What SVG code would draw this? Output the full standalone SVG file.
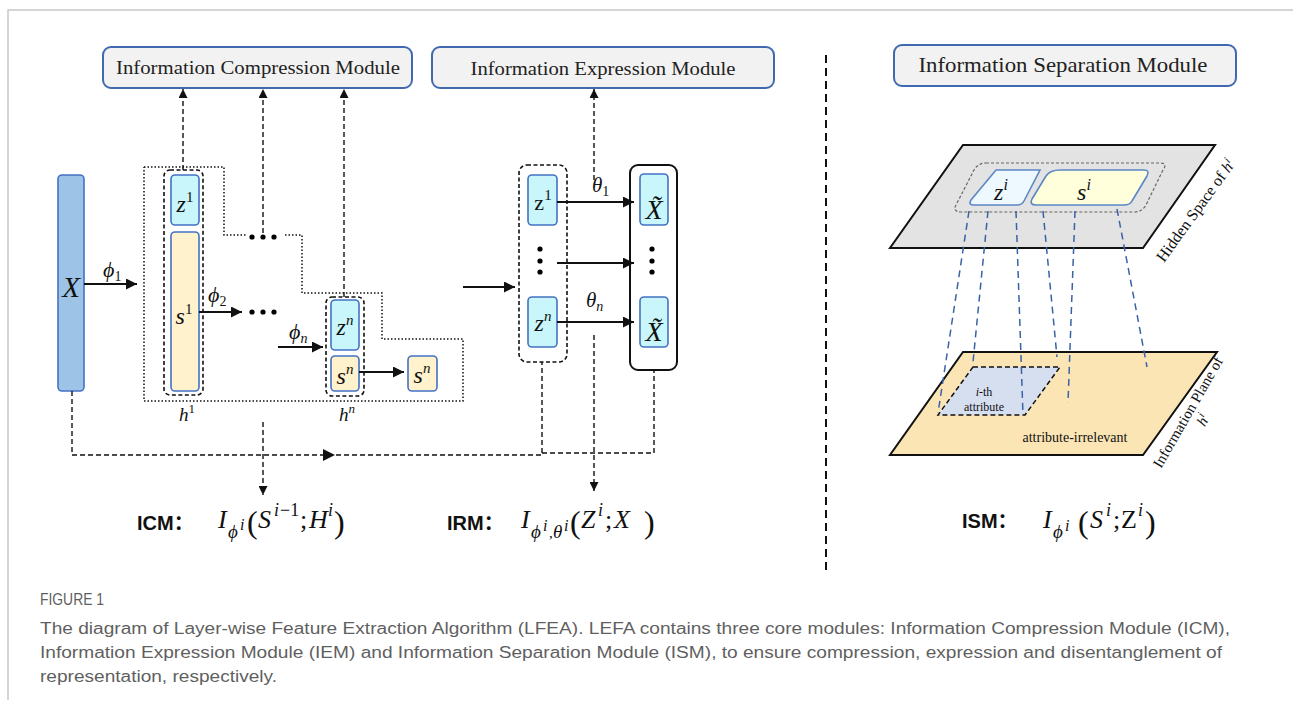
<svg xmlns="http://www.w3.org/2000/svg" width="1293" height="705" viewBox="0 0 1293 705">
<style>
.mod{fill:#f2f2f2;stroke:#4169b0;stroke-width:2}
.mt{font-family:"Liberation Serif",serif;fill:#222;text-anchor:middle}
.zb{fill:#c8f6fb;stroke:#4472c4;stroke-width:1.6}
.sb{fill:#fff2cc;stroke:#4472c4;stroke-width:1.6}
.m{font-family:"Liberation Serif",serif;font-style:italic;fill:#111}
.r{font-family:"Liberation Serif",serif;fill:#111}
.dash{fill:none;stroke:#111;stroke-width:1.4;stroke-dasharray:5,3}
.dot{fill:none;stroke:#111;stroke-width:1.5;stroke-dasharray:1.5,2}
.sol{fill:none;stroke:#111;stroke-width:1.8}
.gb{fill:none;stroke:#111;stroke-width:1.6;stroke-dasharray:4,2.5}
.bl{fill:none;stroke:#3a62a8;stroke-width:1.5;stroke-dasharray:7,5}
.lab{font-family:"Liberation Sans",sans-serif;font-weight:bold;fill:#111;font-size:20px}
.cap{font-family:"Liberation Sans",sans-serif;fill:#5f5f5f;font-size:16px}
</style>
<defs>
<marker id="ah" viewBox="0 0 10 10" refX="10" refY="5" markerWidth="10" markerHeight="9" markerUnits="userSpaceOnUse" orient="auto"><path d="M0,0 L10,5 L0,10 z" fill="#111"/></marker>
<marker id="ah2" viewBox="0 0 10 10" refX="10" refY="5" markerWidth="12" markerHeight="11" markerUnits="userSpaceOnUse" orient="auto"><path d="M0,0 L10,5 L0,10 z" fill="#111"/></marker>
</defs>
<rect width="1293" height="705" fill="#fff"/>
<path d="M8,700 V10 H1293" fill="none" stroke="#c8c8c8" stroke-width="1.5"/>

<g id="icm-module"><rect class="mod" x="103" y="47" width="309" height="41" rx="8"/><text class="mt" x="258" y="74" font-size="19" textLength="284" lengthAdjust="spacingAndGlyphs">Information Compression Module</text></g>
<g id="iem-module"><rect class="mod" x="432" y="47" width="342" height="41" rx="8"/><text class="mt" x="603" y="75" font-size="19" textLength="265" lengthAdjust="spacingAndGlyphs">Information Expression Module</text></g>
<g id="ism-module"><rect class="mod" x="894" y="45" width="342" height="41" rx="8"/><text class="mt" x="1063" y="72" font-size="21" textLength="289" lengthAdjust="spacingAndGlyphs">Information Separation Module</text></g>

<g id="x-input"><rect x="58" y="175" width="26" height="216" rx="4" fill="#9dc3e6" stroke="#4472c4" stroke-width="1.6"/><text class="m" x="71" y="297" font-size="29" text-anchor="middle">X</text></g>

<g id="h-region"><path class="dot" d="M144,167 H224 V235 H246 M285,235 H302 V293 H382 V339 H463 V401 H144 V167"/>
<circle cx="252" cy="237" r="2.6"/><circle cx="263" cy="237" r="2.6"/><circle cx="274" cy="237" r="2.6"/>
<circle cx="252" cy="312" r="2.6"/><circle cx="263" cy="312" r="2.6"/><circle cx="274" cy="312" r="2.6"/></g>

<g id="h1"><rect class="gb" x="164" y="170" width="39" height="225" rx="6"/>
<rect class="zb" x="171" y="175" width="28" height="50" rx="4"/><text class="m" x="185" y="212" font-size="24" text-anchor="middle">z<tspan font-style="normal" font-size="15" dy="-10">1</tspan></text>
<rect class="sb" x="171" y="232" width="28" height="159" rx="4"/><text class="m" x="184" y="324" font-size="24" text-anchor="middle">s<tspan font-style="normal" font-size="15" dy="-10">1</tspan></text>
<text class="m" x="187" y="421" font-size="19" text-anchor="middle">h<tspan font-style="normal" font-size="13" dy="-8">1</tspan></text></g>

<g id="hn"><rect class="gb" x="326" y="297" width="38" height="99" rx="6"/>
<rect class="zb" x="331" y="300" width="28" height="50" rx="4"/><text class="m" x="345" y="335" font-size="24" text-anchor="middle">z<tspan font-size="15" dy="-10">n</tspan></text>
<rect class="sb" x="331" y="356" width="28" height="35" rx="4"/><text class="m" x="345" y="384" font-size="24" text-anchor="middle">s<tspan font-size="15" dy="-10">n</tspan></text>
<text class="m" x="347" y="421" font-size="19" text-anchor="middle">h<tspan font-size="13" dy="-8">n</tspan></text></g>

<g id="sn-out"><rect class="sb" x="408" y="356" width="29" height="35" rx="4"/><text class="m" x="422" y="383" font-size="24" text-anchor="middle">s<tspan font-size="15" dy="-10">n</tspan></text></g>

<g id="z-column"><rect class="gb" x="519" y="165" width="48" height="197" rx="8"/>
<rect class="zb" x="528" y="175" width="29" height="50" rx="4"/><text class="r" x="543" y="210" font-size="22" text-anchor="middle">z<tspan font-size="15" dy="-10">1</tspan></text>
<circle cx="540" cy="249" r="2.6"/><circle cx="540" cy="261" r="2.6"/><circle cx="540" cy="272" r="2.6"/>
<rect class="zb" x="528" y="297" width="29" height="50" rx="4"/><text class="m" x="543" y="331" font-size="24" text-anchor="middle">z<tspan font-size="15" dy="-10">n</tspan></text></g>

<g id="xtilde-column"><rect x="630" y="165" width="47" height="205" rx="8" fill="none" stroke="#111" stroke-width="2"/>
<rect class="zb" x="640" y="174" width="28" height="51" rx="4"/><text class="m" x="654" y="219" font-size="28" text-anchor="middle">X&#771;</text>
<circle cx="652" cy="249" r="2.6"/><circle cx="652" cy="261" r="2.6"/><circle cx="652" cy="272" r="2.6"/>
<rect class="zb" x="640" y="297" width="28" height="50" rx="4"/><text class="m" x="654" y="341" font-size="28" text-anchor="middle">X&#771;</text></g>

<g id="connectors">
<line class="sol" x1="84" y1="284" x2="137" y2="284" marker-end="url(#ah2)"/>
<line class="sol" x1="199" y1="312" x2="242" y2="312" marker-end="url(#ah2)"/>
<line class="sol" x1="278" y1="347" x2="323" y2="347" marker-end="url(#ah2)"/>
<line class="sol" x1="359" y1="372" x2="404" y2="372" marker-end="url(#ah2)"/>
<line class="sol" x1="463" y1="287" x2="515" y2="287" marker-end="url(#ah2)"/>
<line class="sol" x1="557" y1="202" x2="634" y2="202" marker-end="url(#ah2)"/>
<line class="sol" x1="557" y1="263" x2="634" y2="263" marker-end="url(#ah2)"/>
<line class="sol" x1="557" y1="322" x2="634" y2="322" marker-end="url(#ah2)"/>
<line class="dash" x1="183" y1="170" x2="183" y2="89" marker-end="url(#ah)"/>
<line class="dash" x1="263" y1="233" x2="263" y2="89" marker-end="url(#ah)"/>
<line class="dash" x1="344" y1="297" x2="344" y2="89" marker-end="url(#ah)"/>
<line class="dash" x1="594" y1="180" x2="594" y2="89" marker-end="url(#ah)"/>
<line class="dash" x1="594" y1="335" x2="594" y2="491" marker-end="url(#ah)"/>
<line class="dash" x1="263" y1="422" x2="263" y2="495" marker-end="url(#ah)"/>
<path class="dash" d="M72,391 V455 H542 V362"/>
<path class="dash" d="M542,453 H654 V370"/>
<path d="M323,449 L335,455 L323,461 z" fill="#111"/>
<line x1="826" y1="55" x2="826" y2="570" stroke="#111" stroke-width="2" stroke-dasharray="8,5"/>
</g>

<g id="labels">
<text class="m" x="103" y="277" font-size="22">ϕ<tspan font-style="normal" font-size="14" dy="4">1</tspan></text>
<text class="m" x="208" y="302" font-size="22">ϕ<tspan font-style="normal" font-size="14" dy="4">2</tspan></text>
<text class="m" x="289" y="339" font-size="22">ϕ<tspan font-size="14" dy="4">n</tspan></text>
<text class="m" x="592" y="192" font-size="21">θ<tspan font-style="normal" font-size="14" dy="4">1</tspan></text>
<text class="m" x="586" y="307" font-size="21">θ<tspan font-size="14" dy="4">n</tspan></text>
</g>

<g id="icm-formula">
<text class="lab" x="137" y="530">ICM<tspan font-family="'Noto Sans CJK SC',sans-serif">：</tspan></text>
<text class="m" font-size="26"><tspan x="218" y="528">I</tspan><tspan x="228" y="538" font-size="19">ϕ</tspan><tspan x="240" y="530" font-size="16">i</tspan><tspan x="247" y="533" font-size="32" font-style="normal">(</tspan><tspan x="258" y="528">S</tspan><tspan x="274" y="516" font-size="18">i</tspan><tspan x="280" y="516" font-size="18" font-style="normal">−1</tspan><tspan x="300" y="528" font-style="normal">;</tspan><tspan x="309" y="528">H</tspan><tspan x="328" y="516" font-size="18">i</tspan><tspan x="334" y="533" font-size="32" font-style="normal">)</tspan></text>
</g>
<g id="irm-formula">
<text class="lab" x="447" y="530">IRM<tspan font-family="'Noto Sans CJK SC',sans-serif">：</tspan></text>
<text class="m" font-size="26"><tspan x="521" y="528">I</tspan><tspan x="531" y="538" font-size="19">ϕ</tspan><tspan x="543" y="531" font-size="16">i</tspan><tspan x="549" y="538" font-size="15" font-style="normal">,</tspan><tspan x="553" y="538" font-size="19">θ</tspan><tspan x="564" y="531" font-size="16">i</tspan><tspan x="570" y="533" font-size="32" font-style="normal">(</tspan><tspan x="581" y="528">Z</tspan><tspan x="598" y="516" font-size="18">i</tspan><tspan x="605" y="528" font-style="normal">;</tspan><tspan x="614" y="528">X</tspan><tspan x="644" y="533" font-size="32" font-style="normal">)</tspan></text>
</g>

<g id="hidden-space">
<path d="M963,145 H1215 L1143,248 H890 Z" fill="#e3e3e3" stroke="#111" stroke-width="2"/>
<path d="M986,163 H1160 Q1168,163 1163,170 L1146,205 Q1142,212 1134,212 H962 Q952,212 956,205 L974,170 Q978,163 986,163 Z" fill="none" stroke="#666" stroke-width="1.2" stroke-dasharray="3,2"/>
<path d="M996,170 H1040 L1024,201 Q1022,205 1017,205 H974 Q968,205 971,200 Z" fill="#eef8ff" stroke="#5b87c5" stroke-width="1.6"/>
<path d="M1060,170 H1144 Q1150,170 1147,176 L1132,201 Q1130,205 1124,205 H1036 Q1029,205 1032,199 L1046,176 Q1050,170 1060,170 Z" fill="#ffffdc" stroke="#5b87c5" stroke-width="1.6"/>
<text class="m" x="1001" y="200" font-size="24" text-anchor="middle">z<tspan font-size="16" dy="-10">i</tspan></text>
<text class="m" x="1084" y="200" font-size="24" text-anchor="middle">s<tspan font-size="16" dy="-10">i</tspan></text>
<text class="r" font-size="16" transform="translate(1164,263) rotate(-54)">Hidden Space of <tspan class="m">h</tspan><tspan class="m" font-size="11" dy="-6">i</tspan></text>
</g>

<g id="info-plane">
<path d="M963,352 H1217 L1143,455 H890 Z" fill="#fbe5b5" stroke="#111" stroke-width="2"/>
<path d="M973,367 H1060 L1025,415 H938 Z" fill="#d6dff0" stroke="#111" stroke-width="1.5" stroke-dasharray="5,3"/>
<text class="r" x="984" y="396" font-size="12" text-anchor="middle"><tspan font-style="italic">i</tspan>-th</text>
<text class="r" x="984" y="411" font-size="12" text-anchor="middle">attribute</text>
<text class="r" x="1075" y="442" font-size="14" text-anchor="middle">attribute-irrelevant</text>
<text class="r" font-size="15" transform="translate(1161,469) rotate(-60)">Information Plane of<tspan class="m" x="58" y="17">h</tspan><tspan class="m" font-size="11" dy="-6">i</tspan></text>
</g>

<g id="projections">
<line class="bl" x1="969" y1="211" x2="938" y2="413"/>
<line class="bl" x1="988" y1="211" x2="973" y2="362"/>
<line class="bl" x1="1016" y1="211" x2="1023" y2="415"/>
<line class="bl" x1="1043" y1="211" x2="1057" y2="357"/>
<line class="bl" x1="1075" y1="211" x2="1068" y2="403"/>
<line class="bl" x1="1117" y1="209" x2="1147" y2="367"/>
</g>

<g id="ism-formula">
<text class="lab" x="962" y="528">ISM<tspan font-family="'Noto Sans CJK SC',sans-serif">：</tspan></text>
<text class="m" font-size="26"><tspan x="1043" y="528">I</tspan><tspan x="1053" y="538" font-size="19">ϕ</tspan><tspan x="1065" y="531" font-size="16">i</tspan><tspan x="1078" y="533" font-size="32" font-style="normal">(</tspan><tspan x="1090" y="528">S</tspan><tspan x="1106" y="516" font-size="18">i</tspan><tspan x="1113" y="528" font-style="normal">;</tspan><tspan x="1121" y="528" font-style="normal">Z</tspan><tspan x="1138" y="516" font-size="18">i</tspan><tspan x="1145" y="533" font-size="32" font-style="normal">)</tspan></text>
</g>

<g id="caption">
<text class="cap" x="40" y="605" font-size="12" fill="#444" textLength="64" lengthAdjust="spacingAndGlyphs">FIGURE 1</text>
<text class="cap" x="40" y="634" textLength="1190" lengthAdjust="spacingAndGlyphs">The diagram of Layer-wise Feature Extraction Algorithm (LFEA). LEFA contains three core modules: Information Compression Module (ICM),</text>
<text class="cap" x="40" y="658" textLength="1182" lengthAdjust="spacingAndGlyphs">Information Expression Module (IEM) and Information Separation Module (ISM), to ensure compression, expression and disentanglement of</text>
<text class="cap" x="40" y="682" textLength="237" lengthAdjust="spacingAndGlyphs">representation, respectively.</text>
</g>
</svg>
